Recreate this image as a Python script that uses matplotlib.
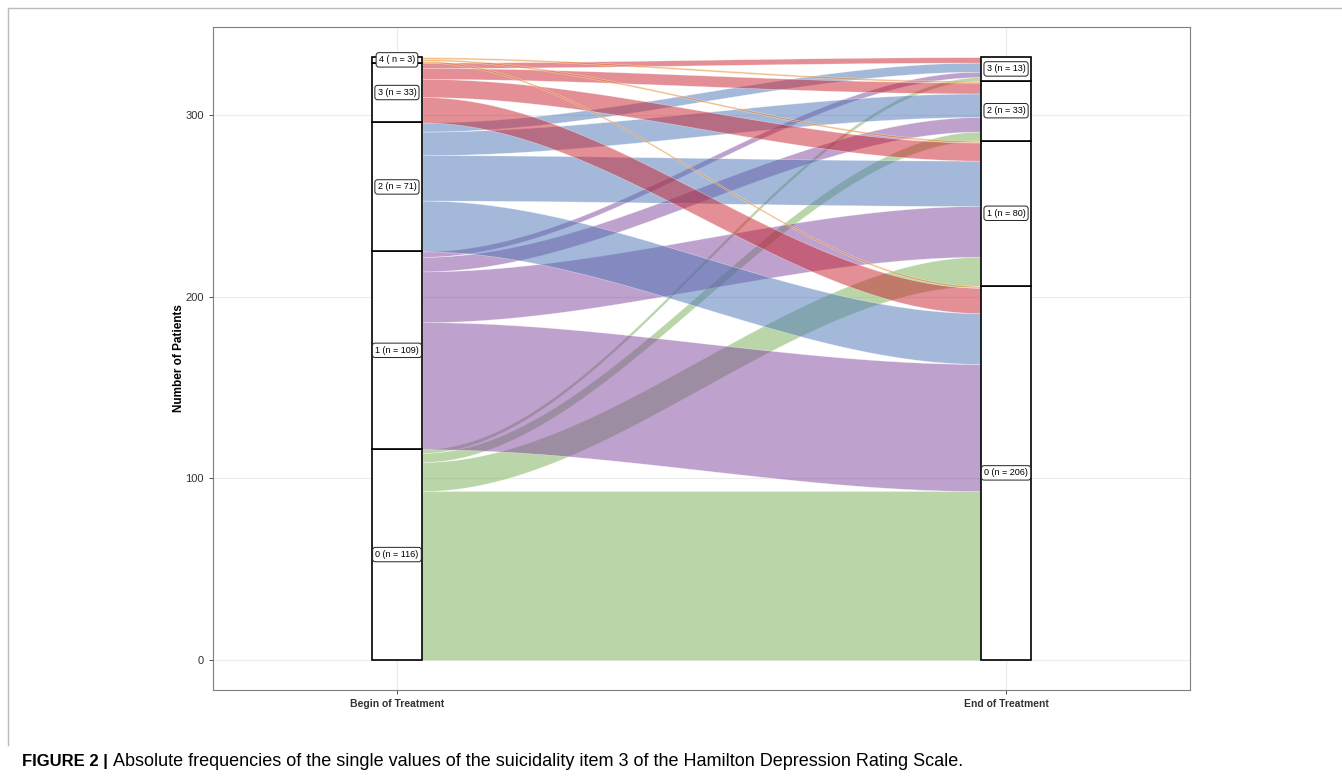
"""
Alluvial plot: suicidality item 3 of the HAM-D at begin and end of treatment.
Saves out.png.
"""

import numpy as np
import matplotlib.pyplot as plt
from matplotlib.patches import Rectangle
from matplotlib.lines import Line2D

plt.rcParams["font.family"] = ["Liberation Sans", "DejaVu Sans"]

begin_levels = ["0", "1", "2", "3", "4"]
end_levels = ["0", "1", "2", "3"]
axis_names = ["Begin of Treatment", "End of Treatment"]

# patients going from begin value (rows) to end value (columns)
transitions = [
    [93, 16, 5, 2],
    [70, 28, 8, 3],
    [28, 25, 13, 5],
    [14, 10, 6, 3],
    [1, 1, 1, 0],
]

flow_colors = ["#77AF55", "#81459D", "#4B75B5", "#C8202C", "#E8801A"]
y_ticks = [0, 100, 200, 300]


def label_text(level, n):
    if level == "4":
        return f"{level} ( n = {n})"
    return f"{level} (n = {n})"


def main():
    counts = np.array(transitions)
    begin_n = counts.sum(axis=1)
    end_n = counts.sum(axis=0)
    begin_bottom = np.concatenate([[0], np.cumsum(begin_n)[:-1]])
    end_bottom = np.concatenate([[0], np.cumsum(end_n)[:-1]])
    total = counts.sum()

    fig = plt.figure(figsize=(13.42, 7.77), dpi=100)
    ax = fig.add_axes([213 / 1342, 1 - 690 / 777, 977 / 1342, 663 / 777])

    w = 1 / 12
    xa, xb = 1 + w / 2, 2 - w / 2
    t = np.linspace(0, 1, 200)
    s = 3 * t**2 - 2 * t**3
    xs = xa + (xb - xa) * t

    # flows
    for b in range(len(begin_levels)):
        for e in range(len(end_levels)):
            n = counts[b, e]
            if n == 0:
                continue
            yl = begin_bottom[b] + counts[b, :e].sum()
            yr = end_bottom[e] + counts[:b, e].sum()
            lower = yl + (yr - yl) * s
            ax.fill_between(xs, lower, lower + n, color=flow_colors[b],
                            alpha=0.5, lw=0.4, edgecolor="white", zorder=2)

    # strata
    for x, levels, bottoms, ns in [(1, begin_levels, begin_bottom, begin_n),
                                   (2, end_levels, end_bottom, end_n)]:
        for lvl, y0, n in zip(levels, bottoms, ns):
            ax.add_patch(Rectangle((x - w / 2, y0), w, n, facecolor="white",
                                   edgecolor="black", lw=1.2, zorder=3))
            ax.text(x, y0 + n / 2, label_text(lvl, n), ha="center", va="center",
                    fontsize=6.5, zorder=4,
                    bbox=dict(boxstyle="round,pad=0.3", fc="white",
                              ec="#222222", lw=0.7))

    ax.set_xlim(0.698, 2.302)
    ax.set_ylim(-0.05 * total, 1.05 * total)
    ax.set_xticks([1, 2])
    ax.set_xticklabels(axis_names, fontweight="bold", fontsize=7.5, color="#333333")
    ax.set_yticks(y_ticks)
    ax.tick_params(axis="y", labelsize=8, labelcolor="#4D4D4D")
    ax.tick_params(colors="#333333", length=3, width=0.6)
    ax.grid(True, color="#EBEBEB", lw=0.8)
    ax.set_axisbelow(True)
    for sp in ax.spines.values():
        sp.set_color("#7F7F7F")
        sp.set_linewidth(0.8)
    ax.set_ylabel("Number of Patients", fontweight="bold", fontsize=8.5, labelpad=0)

    # journal frame
    fig.add_artist(Line2D([8 / 1342, 1], [1 - 8 / 777, 1 - 8 / 777],
                          transform=fig.transFigure, color="#BBBBBB", lw=1))
    fig.add_artist(Line2D([8 / 1342, 8 / 1342], [1 - 8 / 777, 1 - 745 / 777],
                          transform=fig.transFigure, color="#BBBBBB", lw=1))

    # caption
    base = 1 - 766 / 777
    cap = fig.text(22 / 1342, base, "FIGURE 2 |", fontweight="bold",
                   fontsize=12, va="baseline")
    fig.canvas.draw()
    bb = cap.get_window_extent(fig.canvas.get_renderer())
    fig.text(bb.x1 / 1342 + 5 / 1342, base,
             "Absolute frequencies of the single values of the suicidality item 3 "
             "of the Hamilton Depression Rating Scale.",
             fontsize=13, va="baseline")

    fig.savefig("out.png", dpi=100)
    plt.close(fig)


if __name__ == "__main__":
    main()
